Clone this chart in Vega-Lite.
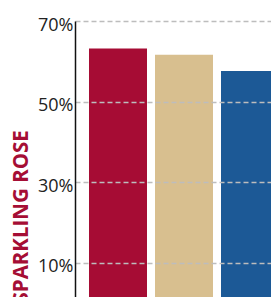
{
  "$schema": "https://vega.github.io/schema/vega-lite/v6.json",
  "width": 218,
  "height": 282,
  "autosize": "none",
  "padding": {"left": 75, "top": 21, "right": 0, "bottom": 0},
  "background": "white",
  "config": {"view": {"stroke": null}},
  "data": {
    "values": [
      {"series": "Red", "share": 0.632},
      {"series": "Tan", "share": 0.616},
      {"series": "Blue", "share": 0.576}
    ]
  },
  "mark": {"type": "bar"},
  "encoding": {
    "x": {
      "field": "series",
      "type": "nominal",
      "sort": null,
      "axis": null,
      "scale": {"paddingInner": 0.1212, "paddingOuter": 0.2121}
    },
    "y": {
      "field": "share",
      "type": "quantitative",
      "scale": {"domain": [0, 0.7], "nice": false},
      "axis": {
        "values": [0.1, 0.3, 0.5, 0.7],
        "format": ".0%",
        "grid": true,
        "gridDash": [5, 3],
        "gridColor": "#bdbdbd",
        "gridWidth": 1.5,
        "ticks": false,
        "domainColor": "#111111",
        "domainWidth": 1.5,
        "labelFont": "Open Sans",
        "labelFontSize": 18,
        "labelColor": "#222222",
        "labelPadding": 2,
        "labelOffset": 4,
        "title": "SPARKLING ROSE",
        "titleFont": "Open Sans",
        "titleFontWeight": "bold",
        "titleFontSize": 20.5,
        "titleColor": "#A50E35",
        "titleAnchor": "start",
        "titlePadding": 6,
        "zindex": 1
      }
    },
    "color": {
      "field": "series",
      "type": "nominal",
      "sort": null,
      "scale": {"domain": ["Red", "Tan", "Blue"], "range": ["#A60C34", "#D8BF8F", "#1C5996"]},
      "legend": null
    }
  }
}
